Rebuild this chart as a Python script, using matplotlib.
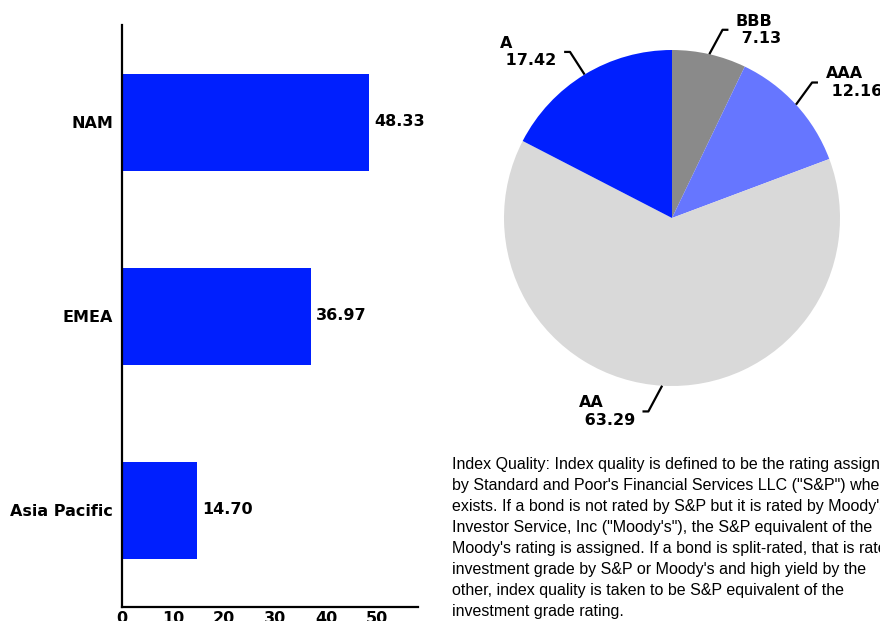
import numpy as np
import matplotlib
matplotlib.use("Agg")
import matplotlib.pyplot as plt

# regions (bar chart)
regions = ["Asia Pacific", "EMEA", "NAM"]
region_vals = [14.70, 36.97, 48.33]

# index quality (pie), clockwise from 12 o'clock
ratings = ["BBB", "AAA", "AA", "A"]
rating_vals = [7.13, 12.16, 63.29, 17.42]
rating_colors = ["#8a8a8a", "#6676ff", "#d9d9d9", "#001ffe"]
# small angular nudges of the label elbows (degrees), layout only
elbow_nudge = [-2.2, 1.6, -3.6, 0.2]

note = ("Index Quality: Index quality is defined to be the rating assigned\n"
        "by Standard and Poor's Financial Services LLC (\"S&P\") where it\n"
        "exists. If a bond is not rated by S&P but it is rated by Moody's\n"
        "Investor Service, Inc (\"Moody's\"), the S&P equivalent of the\n"
        "Moody's rating is assigned. If a bond is split-rated, that is rated\n"
        "investment grade by S&P or Moody's and high yield by the\n"
        "other, index quality is taken to be S&P equivalent of the\n"
        "investment grade rating.")

fig = plt.figure(figsize=(8.8, 6.21), dpi=100)

# bar chart
ax = fig.add_axes([122 / 880, 1 - 607 / 621, 296 / 880, 582 / 621])
bars = ax.barh(range(len(regions)), region_vals, height=0.5, color="#001ffe")
ax.bar_label(bars, labels=[f"{v:.2f}" for v in region_vals], padding=4,
             fontsize=11.5, fontweight="bold")
ax.set_yticks(range(len(regions)))
ax.set_yticklabels(regions, fontsize=11.5, fontweight="bold")
ax.set_xlim(0, 58)
ax.set_ylim(-0.5, 2.5)
ax.set_xticks([0, 10, 20, 30, 40, 50])
ax.tick_params(axis="x", length=0, pad=3, labelsize=11.5)
ax.tick_params(axis="y", length=0, pad=6.5)
for lbl in ax.get_xticklabels():
    lbl.set_fontweight("bold")
for s in ["top", "right"]:
    ax.spines[s].set_visible(False)
for s in ["left", "bottom"]:
    ax.spines[s].set_linewidth(1.6)

# pie chart
r_px = 168
half = 1.3
pax = fig.add_axes([(672 - r_px * half) / 880, 1 - (218 + r_px * half) / 621,
                    2 * r_px * half / 880, 2 * r_px * half / 621])
wedges, _ = pax.pie(rating_vals, colors=rating_colors, startangle=90,
                    counterclock=False, radius=1)
pax.set_xlim(-half, half)
pax.set_ylim(-half, half)
pax.set_aspect("equal")
pax.axis("off")

for w, name, val, nud in zip(wedges, ratings, rating_vals, elbow_nudge):
    mid = (w.theta1 + w.theta2) / 2
    ang = np.deg2rad(mid)
    x0, y0 = np.cos(ang), np.sin(ang)
    sgn = 1 if x0 >= 0 else -1
    ang2 = np.deg2rad(mid + nud)
    x1, y1 = 1.16 * np.cos(ang2), 1.16 * np.sin(ang2)
    x2 = x1 + sgn * 0.035
    pax.plot([x0, x1, x2], [y0, y1, y1], color="black", lw=1.6,
             clip_on=False, solid_capstyle="butt")
    pax.text(x2 + sgn * 0.045, y1, f"{name}\n {val:.2f}",
             ha="left" if sgn > 0 else "right", ma="left", va="center",
             fontsize=11.5, fontweight="bold", linespacing=1.2)

# footnote
fig.text(452 / 880, 1 - 457 / 621, note, ha="left", va="top",
         family="Liberation Sans", fontsize=11.5, linespacing=1.5)

fig.savefig("out.png", dpi=100)
